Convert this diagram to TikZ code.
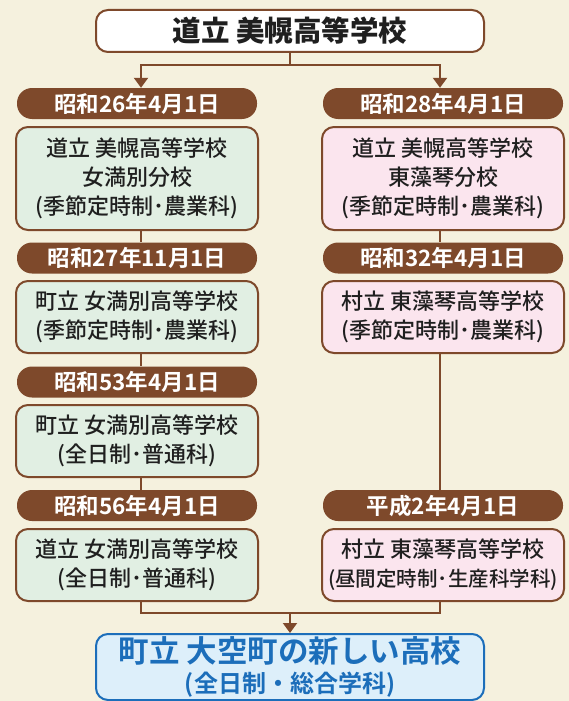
\documentclass[tikz,border=0pt]{standalone}
\usepackage{fontspec}
\setmainfont{Noto Sans CJK JP}[BoldFont={Noto Sans CJK JP Bold}]
\newfontfamily\jpmed{Noto Sans CJK JP Medium}
\newfontfamily\jpblack{Noto Sans CJK JP Black}
\usetikzlibrary{arrows.meta}

\definecolor{bgcream}{RGB}{245,241,222}
\definecolor{linebrown}{RGB}{126,73,43}
\definecolor{greenfill}{RGB}{225,239,227}
\definecolor{pinkfill}{RGB}{251,229,238}
\definecolor{bluefill}{RGB}{221,239,250}
\definecolor{blueline}{RGB}{28,110,186}

\begin{document}
\begin{tikzpicture}[x=1pt,y=-1pt,
    school/.style={draw=linebrown, line width=2pt, rounded corners=12pt, minimum width=242pt,
        inner sep=0pt, align=center, text=black!88, font=\jpmed\fontsize{22}{29}\selectfont},
    oldbranch/.style={school, fill=greenfill},
    newbranch/.style={school, fill=pinkfill},
    datepill/.style={fill=linebrown, rounded corners=15pt, minimum width=240pt, minimum height=31pt,
        inner sep=0pt, text=white, font=\bfseries\fontsize{22.5}{24}\selectfont},
    link/.style={draw=linebrown, line width=2pt},
    flow/.style={link, -{Triangle[width=14pt,length=10pt]}}]
    \fill[bgcream] (0,0) rectangle (569,701);
    % top
    \node[school, fill=white, minimum width=388pt, minimum height=42pt,
        font=\jpblack\fontsize{28.5}{30}\selectfont] (top) at (290,31) {道立 美幌高等学校};
    % left column
    \node[datepill] (p1l) at (137,103.5) {昭和26年4月1日};
    \node[oldbranch, minimum height=103pt] (b1l) at (137,178.5) {道立 美幌高等学校\\女満別分校\\(季節定時制･農業科)};
    \node[datepill] (p2l) at (137,258) {昭和27年11月1日};
    \node[oldbranch, minimum height=72pt] (b2l) at (137,317) {町立 女満別高等学校\\(季節定時制･農業科)};
    \node[datepill] (p3l) at (137,382) {昭和53年4月1日};
    \node[oldbranch, minimum height=72pt] (b3l) at (137,441) {町立 女満別高等学校\\(全日制･普通科)};
    \node[datepill] (p4l) at (137,505.5) {昭和56年4月1日};
    \node[oldbranch, minimum height=72pt] (b4l) at (137,565) {道立 女満別高等学校\\(全日制･普通科)};
    % right column
    \node[datepill] (p1r) at (443,103.5) {昭和28年4月1日};
    \node[newbranch, minimum height=103pt] (b1r) at (443,178.5) {道立 美幌高等学校\\東藻琴分校\\(季節定時制･農業科)};
    \node[datepill] (p2r) at (443,258) {昭和32年4月1日};
    \node[newbranch, minimum height=72pt] (b2r) at (443,317) {村立 東藻琴高等学校\\(季節定時制･農業科)};
    \node[datepill] (p4r) at (443,505.5) {平成2年4月1日};
    \node[newbranch, minimum height=72pt] (b4r) at (443,565) {村立 東藻琴高等学校\\{\fontsize{20.5}{29}\selectfont (昼間定時制･生産科学科)}};
    % new school
    \node[school, draw=blueline, fill=bluefill, text=blueline, minimum width=388pt, minimum height=66pt,
        font=\bfseries] (new) at (290,667)
        {\fontsize{30.5}{30}\selectfont 町立 大空町の新しい高校\\[5pt]\fontsize{24}{26}\selectfont (全日制・総合学科)};

    \coordinate (l) at (141,0);
    \coordinate (r) at (440,0);
    \coordinate (fork) at (290,65);
    \coordinate (merge) at (290,613);
    \draw[link] (top) -- (fork);
    \draw[flow] (fork) -| (p1l.north -| l);
    \draw[flow] (fork) -| (p1r.north -| r);
    \draw[link] (b1l.south -| l) -- (p2l.north -| l);
    \draw[link] (b2l.south -| l) -- (p3l.north -| l);
    \draw[link] (b3l.south -| l) -- (p4l.north -| l);
    \draw[link] (b1r.south -| r) -- (p2r.north -| r);
    \draw[link] (b2r.south -| r) -- (p4r.north -| r);
    \draw[link] (b4l.south -| l) |- (merge) -| (b4r.south -| r);
    \draw[flow] (merge) -- (new);
\end{tikzpicture}
\end{document}
